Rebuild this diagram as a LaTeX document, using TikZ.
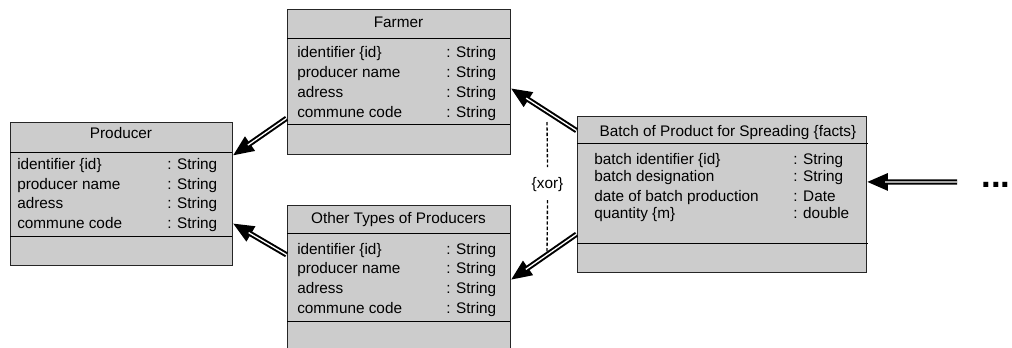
\documentclass[tikz,border=0pt]{standalone}
\usepackage{fontspec}
\setmainfont{Liberation Sans}
\usetikzlibrary{arrows.meta,fit,calc}
\definecolor{boxgray}{RGB}{204,204,204}

\begin{document}
\begin{tikzpicture}[x=0.75pt,y=-0.75pt,
	classbox/.style={draw=black!85, fill=boxgray, line width=0.75pt, inner sep=0pt},
	txt/.style={anchor=base west, inner sep=0pt, font=\fontsize{11.5}{14}\selectfont},
	ttl/.style={anchor=base, inner sep=0pt, font=\fontsize{11.5}{14}\selectfont},
	gen/.style={line width=4pt, -{Triangle[length=16pt,width=12pt]},
		postaction={draw=white, line width=1pt, -, shorten >=14pt}},
	xorline/.style={dash pattern=on 2.5pt off 1.5pt, line width=1pt}]
	\clip (0,0) rectangle (1012,347);

	% classes
	\node[classbox, fit={(10,122) (232,265)}] (producer) {};
	\node[classbox, fit={(287,9) (510,154)}] (farmer) {};
	\node[classbox, fit={(287,205) (510,351)}] (other) {};
	\node[classbox, fit={(577,116) (866,272)}] (batch) {};

	\draw[line width=0.75pt] (10,152) -- (232,152) (10,236) -- (232,236);
	\draw[line width=0.75pt] (287,38) -- (510,38) (287,124) -- (510,124);
	\draw[line width=0.75pt] (287,233) -- (510,233) (287,321) -- (510,321);
	\draw[line width=0.75pt] (577,143) -- (868,143) (577,243) -- (868,243);

	\node[ttl] (producer-title) at (121,138.5) {Producer};
	\node[ttl] (farmer-title) at (398.5,27) {Farmer};
	\node[ttl] (other-title) at (398.5,223) {Other Types of Producers};
	\node[ttl] (batch-title) at (728,136) {Batch of Product for Spreading \{facts\}};

	\foreach \name/\y in {identifier \{id\}/0, producer name/1, adress/2, commune code/3}{
		\node[txt] at (17,169.5+19.7*\y) {\name};
		\node[txt] at (167,169.5+19.7*\y) {: String};
		\node[txt] at (297,57.9+19.7*\y) {\name};
		\node[txt] at (446,57.9+19.7*\y) {: String};
		\node[txt] at (297,254+19.7*\y) {\name};
		\node[txt] at (446,254+19.7*\y) {: String};
	}

	\foreach \name/\type/\y in {batch identifier \{id\}/String/164, batch designation/String/181,
		date of batch production/Date/201, quantity \{m\}/double/218}{
		\node[txt] at (594,\y) {\name};
		\node[txt] at (793,\y) {: \type};
	}

	% xor constraint
	\node[ttl] (xor) at (547.5,188) {\{xor\}};
	\draw[xorline] (547,122) -- (xor.north |- 0,167);
	\draw[xorline] (xor.south |- 0,200) -- (547,253);

	% generalisations
	\draw[gen] ($(farmer.north west)!0.752!(farmer.south west)$) -- ($(producer.north east)!0.238!(producer.south east)$);
	\draw[gen] ($(other.north west)!0.342!(other.south west)$) -- ($(producer.north east)!0.706!(producer.south east)$);
	\draw[gen] ($(batch.north west)!0.096!(batch.south west)$) -- ($(farmer.north east)!0.545!(farmer.south east)$);
	\draw[gen] ($(batch.north west)!0.756!(batch.south west)$) -- ($(other.north east)!0.514!(other.south east)$);

	\node[anchor=base, inner sep=0pt, font=\fontsize{26}{26}\bfseries\selectfont] (dots) at (996,187) {...};
	\coordinate (more) at (957,182);
	\draw[gen] (more) -- ($(batch.north east)!0.423!(batch.south east)$);
\end{tikzpicture}
\end{document}
